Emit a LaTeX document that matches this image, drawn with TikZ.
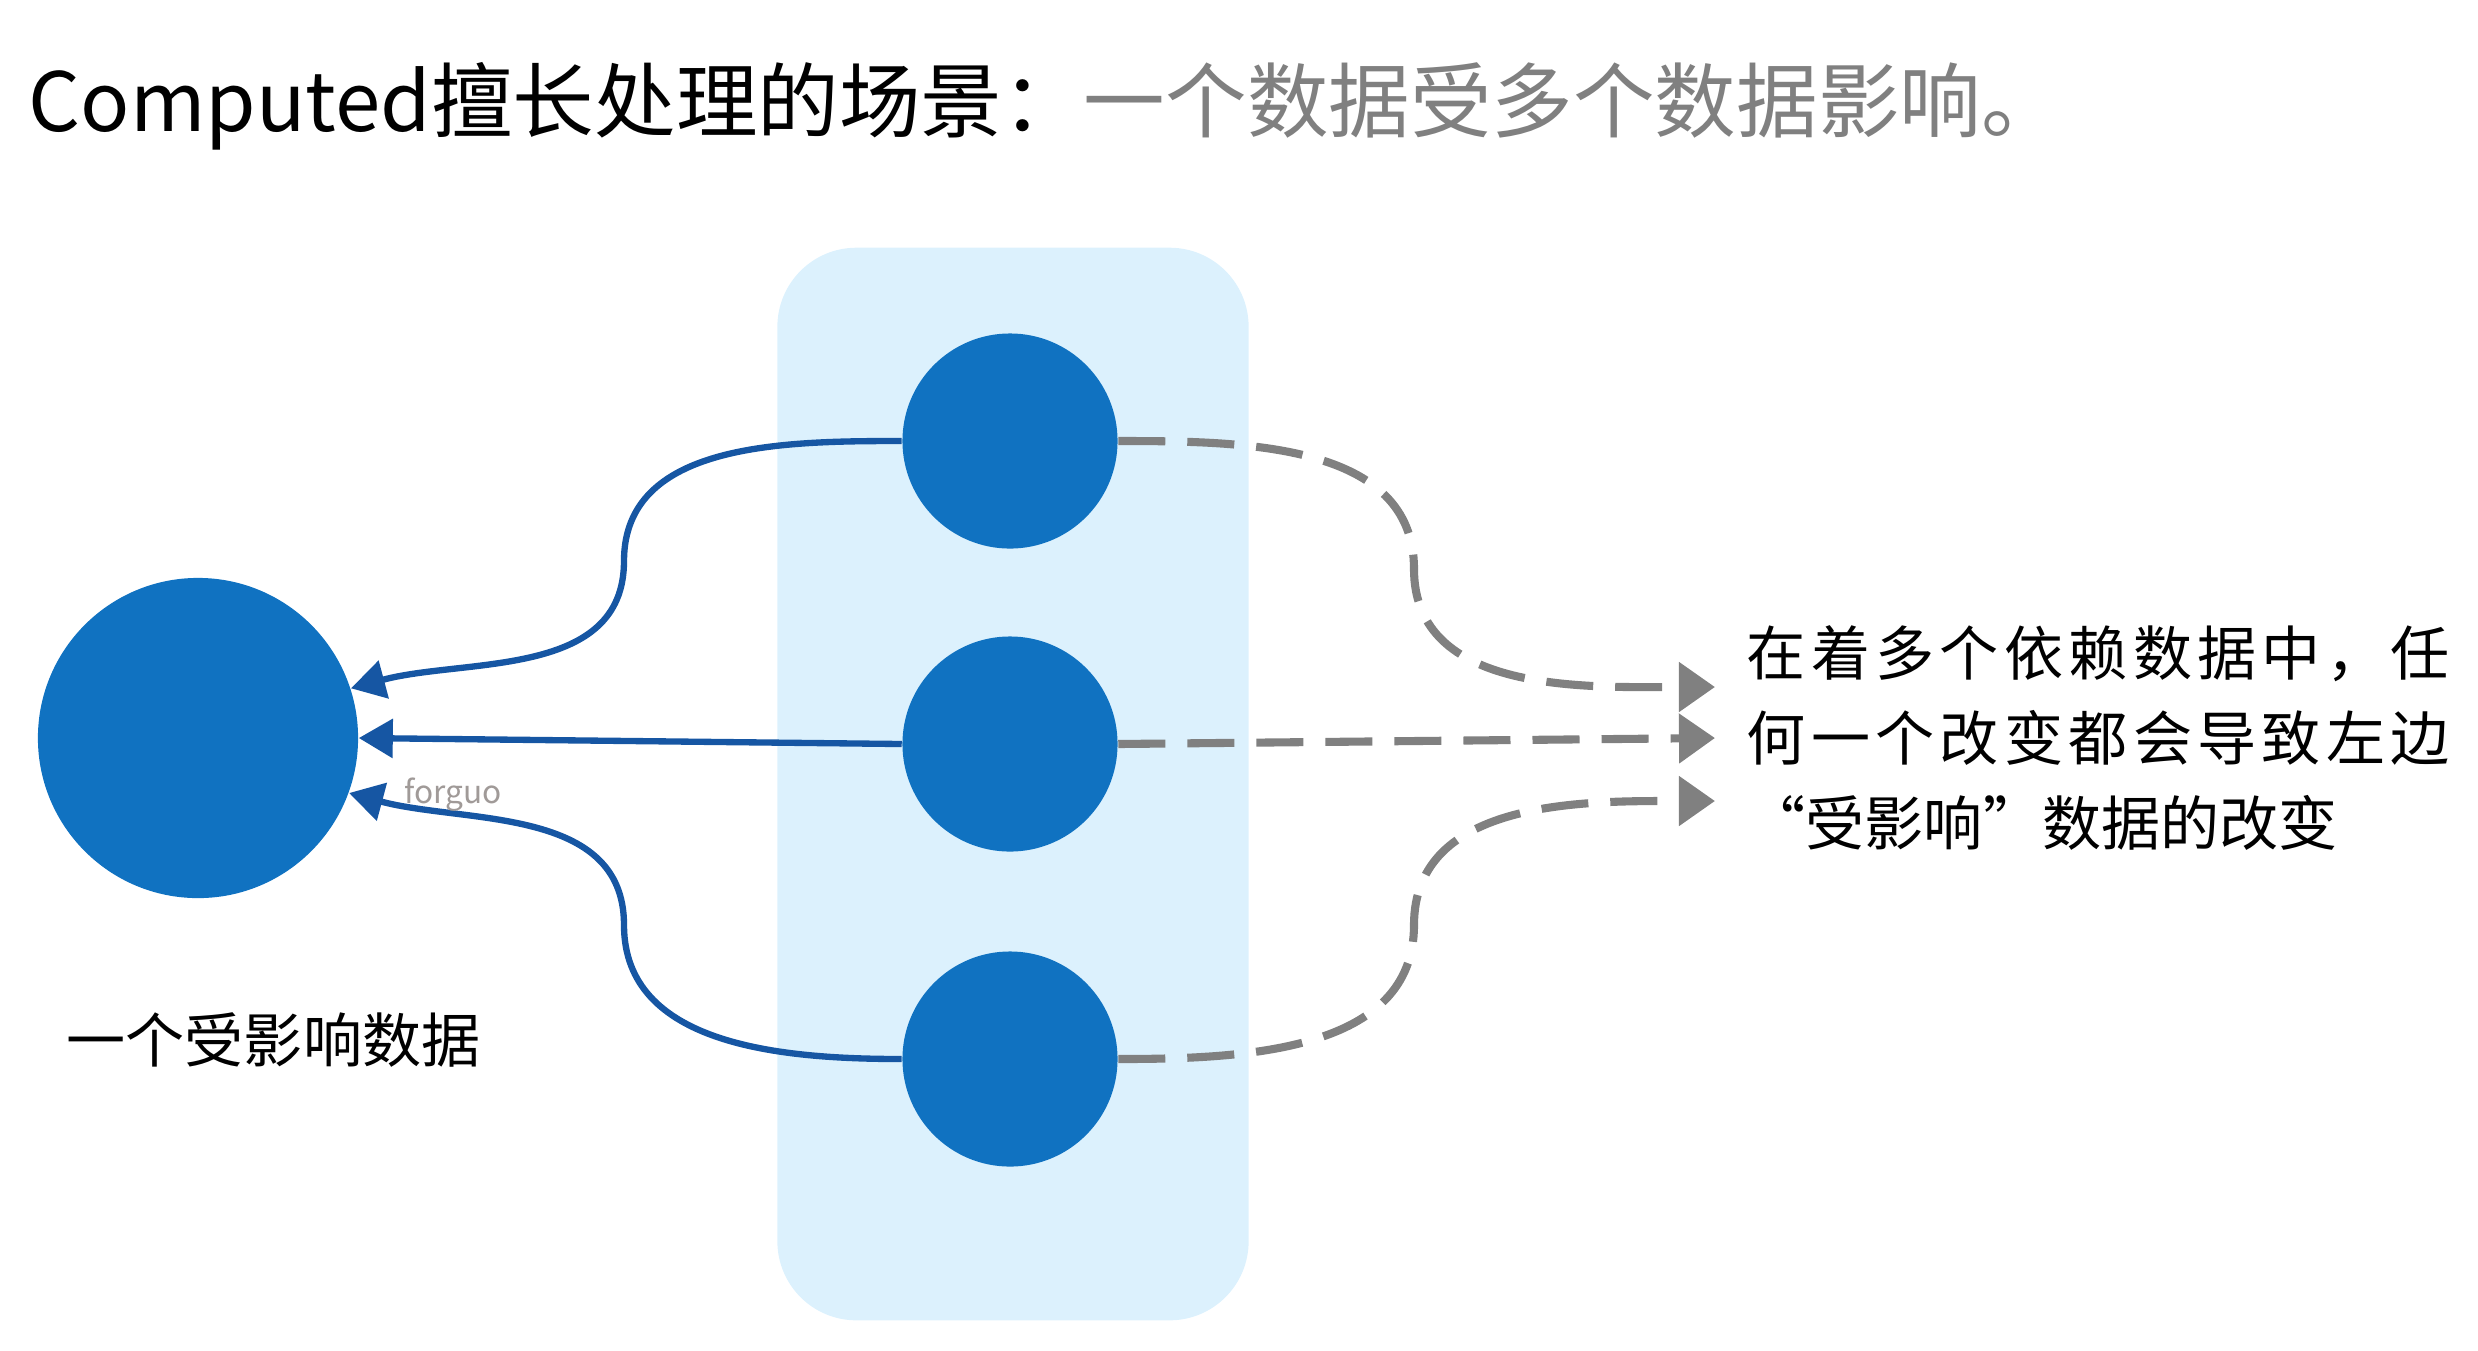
\documentclass[tikz,border=0pt]{standalone}
\usepackage{fontspec}
\setmainfont{Noto Sans CJK SC}
\newfontfamily\notefont[LetterSpace=9]{Noto Sans CJK SC}
\usetikzlibrary{arrows.meta}
\definecolor{dotblue}{RGB}{16,114,193}
\definecolor{lineblue}{RGB}{22,86,163}
\definecolor{panelblue}{RGB}{220,241,253}
\definecolor{dashgray}{RGB}{128,128,128}
\definecolor{titlegray}{RGB}{128,128,128}
\definecolor{markgray}{RGB}{160,154,152}
\begin{document}
\begin{tikzpicture}[
    x=0.01cm, y=0.01cm,
    panel/.style={fill=panelblue, rounded corners=0.79cm, minimum width=4.71cm, minimum height=10.72cm, inner sep=0pt},
    dot/.style={circle, fill=dotblue, inner sep=0pt, minimum size=2.15cm},
    bigdot/.style={circle, fill=dotblue, inner sep=0pt, minimum size=3.2cm},
    feed/.style={draw=lineblue, line width=1.8pt, -{Triangle[width=0.38cm, length=0.34cm]}},
    notify/.style={draw=dashgray, line width=2.3pt, dash pattern=on 0.47cm off 0.22cm, -{Triangle[width=0.48cm, length=0.36cm]}},
    caption/.style={inner sep=0pt, font=\fontsize{16.8pt}{24pt}\selectfont}
]
\useasboundingbox (0,0) rectangle (2478,-1350);
\node[panel] (group) at (1013,-784) {};
\node[bigdot] (big) at (198,-738) {};
\node[dot] (s1) at (1010,-441) {};
\node[dot] (s2) at (1010,-744) {};
\node[dot] (s3) at (1010,-1059) {};
\coordinate (in1) at (624,-561);
\coordinate (in3) at (624,-925);
\coordinate (out1) at (1414,-569);
\coordinate (out3) at (1414,-925);
\coordinate (t1) at (1715,-687);
\coordinate (t2) at (1715,-738);
\coordinate (t3) at (1715,-801);
\draw[feed] (s1.west) to[out=180, in=90] (in1) to[out=-90, in=15] (big.18);
\draw[feed] (s2.west) -- (big.east);
\draw[feed] (s3.west) to[out=180, in=-90] (in3) to[out=90, in=-15] (big.-20);
\draw[notify] (s1.east) to[out=0, in=90] (out1) to[out=-90, in=180] (t1);
\draw[notify] (s2.east) -- (t2);
\draw[notify] (s3.east) to[out=0, in=-90] (out3) to[out=90, in=180] (t3);
\node[anchor=base west, inner sep=0pt, font=\fontsize{23.2pt}{26pt}\selectfont] (title) at (28,-131)
    {Computed擅长处理的场景：\textcolor{titlegray}{一个数据受多个数据影响。}};
\node[caption, anchor=west] (affected) at (66,-1040) {一个受影响数据};
\node[caption, anchor=west, align=left, font=\fontsize{16.8pt}{0.85cm}\selectfont] (note) at (1746,-738)
    {{\notefont 在着多个依赖数据中，任}\\{\notefont 何一个改变都会导致左边}\\“受影响”数据的改变};
\node[text=markgray, inner sep=0pt, font=\fontsize{9pt}{10pt}\selectfont] (mark) at (453,-795) {forguo};
\end{tikzpicture}
\end{document}
